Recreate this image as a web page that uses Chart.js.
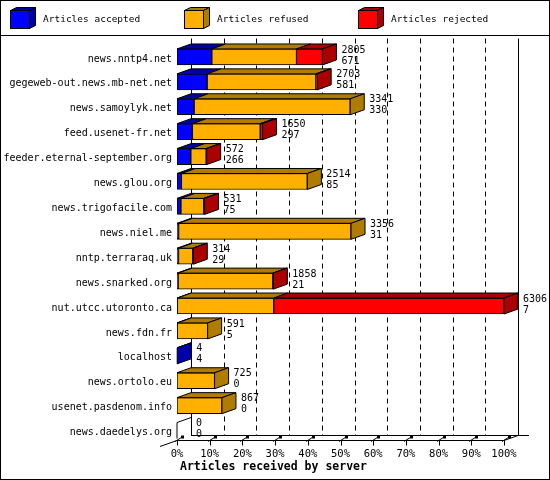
<!DOCTYPE html>
<html lang="en">
<head>
    <meta charset="UTF-8">
    <title>Articles received by server</title>
    <script src="https://cdn.jsdelivr.net/npm/chart.js"></script>
    <style>
        body {
            margin: 0;
            background-color: white;
        }
        canvas {
            display: block;
        }
    </style>
</head>
<body>
    <canvas id="serverChart" width="550" height="480"></canvas>

    <script>
        // Values
        const servers = [
            'news.nntp4.net', 'gegeweb-out.news.mb-net.net', 'news.samoylyk.net',
            'feed.usenet-fr.net', 'feeder.eternal-september.org', 'news.glou.org',
            'news.trigofacile.com', 'news.niel.me', 'nntp.terraraq.uk',
            'news.snarked.org', 'nut.utcc.utoronto.ca', 'news.fdn.fr',
            'localhost', 'news.ortolo.eu', 'usenet.pasdenom.info', 'news.daedelys.org'
        ];
        const offered  = [2805, 2703, 3341, 1650, 572, 2514, 531, 3356, 314, 1858, 6306, 591, 4, 725, 867, 0];
        const accepted = [671, 581, 330, 297, 266, 85, 75, 31, 29, 21, 7, 5, 4, 0, 0, 0];
        const refused  = [1634, 2097, 3011, 1308, 296, 2429, 441, 3325, 275, 1827, 1859, 586, 0, 725, 867, 0];
        const rejected = [500, 25, 0, 45, 10, 0, 15, 0, 10, 10, 4440, 0, 0, 0, 0, 0];
        const seriesNames = ['Articles accepted', 'Articles refused', 'Articles rejected'];
        const pctTicks = [0, 10, 20, 30, 40, 50, 60, 70, 80, 90, 100];
        const axisTitle = 'Articles received by server';

        const frontColors = ['#0000ff', '#ffb000', '#ff0000'];
        const darkColors = ['#0000aa', '#b07c00', '#aa0000'];
        const DX = 14, DY = 5;   // depth of the 3d bars

        // bars are scaled so that the biggest server is 100%
        const maxOffered = Math.max(...offered);
        const pct = arr => arr.map(v => v * 100 / maxOffered);

        function poly(ctx, pts, fill) {
            ctx.beginPath();
            ctx.moveTo(pts[0][0], pts[0][1]);
            for (let k = 1; k < pts.length; k++) ctx.lineTo(pts[k][0], pts[k][1]);
            ctx.closePath();
            if (fill) {
                ctx.fillStyle = fill;
                ctx.fill();
            }
            ctx.stroke();
        }

        // back wall, dashed grid and floor
        const wallPlugin = {
            id: 'wall',
            beforeDatasetsDraw(chart) {
                const ctx = chart.ctx;
                const xs = chart.scales.x;
                const area = chart.chartArea;
                const top = area.top - 6;
                const back = area.bottom - 7.5;
                const front = area.bottom - 2.5;
                ctx.save();
                ctx.strokeStyle = '#000';
                ctx.lineWidth = 1;
                pctTicks.forEach((t, i) => {
                    const x = Math.round(xs.getPixelForValue(t) + DX) + 0.5;
                    ctx.setLineDash(i === 0 || i === pctTicks.length - 1 ? [] : [5, 4]);
                    ctx.beginPath();
                    ctx.moveTo(x, top);
                    ctx.lineTo(x, back);
                    ctx.stroke();
                });
                ctx.setLineDash([]);
                const x0 = xs.getPixelForValue(0);
                const x1 = xs.getPixelForValue(100);
                ctx.beginPath();
                ctx.moveTo(x0 + DX, back);
                ctx.lineTo(x1 + DX + 11, back);
                ctx.moveTo(x0 - 17, front + 6);
                ctx.lineTo(x0, front);
                ctx.lineTo(x1, front);
                ctx.lineTo(x1 + DX, back);
                ctx.stroke();
                // little 3d tick marks on the floor
                pctTicks.forEach(t => {
                    const x = Math.round(xs.getPixelForValue(t));
                    ctx.beginPath();
                    ctx.moveTo(x + 0.5, front);
                    ctx.lineTo(x + 0.5, front + 5);
                    ctx.moveTo(x - 2, front + 1);
                    ctx.lineTo(x + 6, front - 4);
                    ctx.stroke();
                    ctx.fillStyle = '#000';
                    ctx.fillRect(x + 4, front - 5, 3, 3);
                });
                ctx.restore();
            },
            afterDatasetsDraw(chart) {
                const ctx = chart.ctx;
                const xs = chart.scales.x;
                ctx.save();
                ctx.strokeStyle = '#000';
                ctx.lineWidth = 1;
                ctx.font = '10px "DejaVu Sans Mono"';
                ctx.fillStyle = '#000';
                servers.forEach((name, i) => {
                    let endX = xs.getPixelForValue(0);
                    let last = -1;
                    let top = 0, bottom = 0;
                    chart.data.datasets.forEach((ds, d) => {
                        const bar = chart.getDatasetMeta(d).data[i];
                        top = bar.y - bar.height / 2;
                        bottom = bar.y + bar.height / 2;
                        const w = bar.x - bar.base;
                        if (ds.data[i] > 0) {
                            poly(ctx, [[bar.base, top], [bar.x, top], [bar.x + DX, top - DY], [bar.base + DX, top - DY]], darkColors[d]);
                            endX = bar.x;
                            last = d;
                        }
                    });
                    if (last >= 0) {
                        poly(ctx, [[endX, top], [endX + DX, top - DY], [endX + DX, bottom - DY], [endX, bottom]], darkColors[last]);
                    } else {
                        ctx.beginPath();
                        ctx.moveTo(endX, bottom);
                        ctx.lineTo(endX, top);
                        ctx.lineTo(endX + DX, top - DY);
                        ctx.stroke();
                    }
                    ctx.fillStyle = '#000';
                    ctx.textAlign = 'left';
                    ctx.textBaseline = 'middle';
                    ctx.fillText(String(offered[i]), endX + DX + 5, top + 1);
                    ctx.fillText(String(accepted[i]), endX + DX + 5, top + 12);
                });
                ctx.restore();
            },
            afterDraw(chart) {
                const ctx = chart.ctx;
                ctx.save();
                ctx.strokeStyle = '#000';
                ctx.lineWidth = 1;
                // legend with little cubes
                const legendX = [10, 184, 358];
                seriesNames.forEach((s, d) => {
                    const x = legendX[d], y = 10.5;
                    ctx.fillStyle = frontColors[d];
                    ctx.fillRect(x, y, 19, 18);
                    ctx.strokeRect(x + 0.5, y, 19, 18);
                    poly(ctx, [[x + 0.5, y], [x + 19.5, y], [x + 25.5, y - 3], [x + 6.5, y - 3]], darkColors[d]);
                    poly(ctx, [[x + 19.5, y], [x + 25.5, y - 3], [x + 25.5, y + 15], [x + 19.5, y + 18]], darkColors[d]);
                    ctx.fillStyle = '#000';
                    ctx.font = '9.5px "DejaVu Sans Mono"';
                    ctx.textAlign = 'left';
                    ctx.textBaseline = 'middle';
                    ctx.fillText(s, x + 33, 20);
                });
                ctx.beginPath();
                ctx.moveTo(0, 35.5);
                ctx.lineTo(550, 35.5);
                ctx.stroke();
                ctx.strokeRect(0.5, 0.5, 549, 479);
                // axis title
                ctx.font = 'bold 11.5px "DejaVu Sans Mono"';
                ctx.textAlign = 'left';
                ctx.fillText(axisTitle, 180, 467);
                ctx.restore();
            }
        };

        const ctx = document.getElementById('serverChart').getContext('2d');
        new Chart(ctx, {
            type: 'bar',
            data: {
                labels: servers,
                datasets: [accepted, refused, rejected].map((arr, d) => ({
                    label: seriesNames[d],
                    data: pct(arr),
                    backgroundColor: frontColors[d],
                    borderColor: '#000',
                    borderWidth: 1,
                    borderSkipped: false,
                    barThickness: 16
                }))
            },
            options: {
                indexAxis: 'y',
                responsive: false,
                animation: false,
                events: [],
                layout: {
                    padding: { top: 44.5, right: 46, bottom: 0, left: 0 }
                },
                plugins: {
                    legend: { display: false },
                    tooltip: { enabled: false }
                },
                scales: {
                    x: {
                        stacked: true,
                        min: 0,
                        max: 100,
                        afterFit: function(scale) { scale.height = 37; },
                        afterBuildTicks: function(scale) {
                            scale.ticks = pctTicks.map(v => ({ value: v }));
                        },
                        grid: { display: false, drawTicks: false },
                        border: { display: false },
                        ticks: {
                            padding: 5,
                            maxRotation: 0,
                            color: '#000',
                            font: { family: 'DejaVu Sans Mono', size: 10.5 },
                            callback: function(value) {
                                return value + '%';
                            }
                        }
                    },
                    y: {
                        stacked: true,
                        afterFit: function(scale) { scale.width = 177; },
                        grid: { display: false, drawTicks: false },
                        border: { display: false },
                        ticks: {
                            padding: 5,
                            labelOffset: 2,
                            autoSkip: false,
                            color: '#000',
                            font: { family: 'DejaVu Sans Mono', size: 10 }
                        }
                    }
                }
            },
            plugins: [wallPlugin]
        });
    </script>
</body>
</html>
